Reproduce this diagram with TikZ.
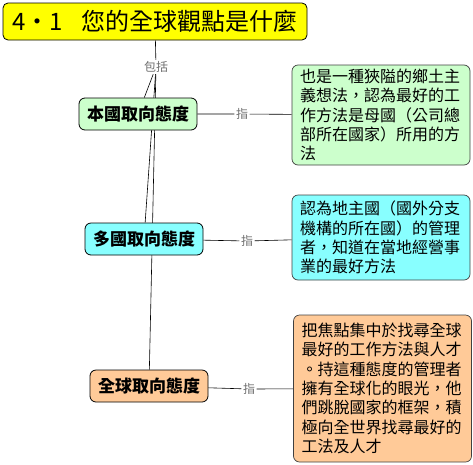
\documentclass[tikz,border=0pt]{standalone}
\usepackage{fontspec}
\setmainfont{Noto Sans CJK TC}
\usetikzlibrary{positioning,backgrounds}
\definecolor{titleyellow}{RGB}{255,255,0}
\definecolor{homegreen}{RGB}{204,255,204}
\definecolor{multicyan}{RGB}{136,255,255}
\definecolor{globalorange}{RGB}{255,202,152}
\definecolor{linkgray}{RGB}{110,110,110}

\begin{document}
\begin{tikzpicture}[x=1pt, y=-1pt,
    titlebox/.style={draw, rounded corners=5pt, fill=titleyellow, line width=0.8pt,
      minimum width=304pt, minimum height=37pt, inner sep=0pt, font=\fontsize{24}{26}\selectfont},
    kindbox/.style={draw, rounded corners=6pt, line width=0.8pt, minimum width=118pt,
      minimum height=32pt, inner sep=0pt, font=\bfseries\fontsize{17}{19}\selectfont},
    descbox/.style={draw=black!75, rounded corners=6pt, line width=0.7pt, text width=162pt,
      inner xsep=8pt, align=left, font=\fontsize{16}{19.3}\selectfont},
    linklabel/.style={text=linkgray, inner sep=1.5pt, font=\fontsize{12}{12}\selectfont},
    conn/.style={line width=0.6pt}]
  \useasboundingbox (0,0) rectangle (473,464);
  % titulo y etiqueta central
  \node[titlebox] (title) at (155,21.5) {4・1\hspace{0.8em}您的全球觀點是什麼};
  \node[linklabel] (incl) at (156,67) {包括};
  % tres enfoques (columna izquierda)
  \node[kindbox, fill=homegreen] (home) at (138,114) {本國取向態度};
  \node[kindbox, fill=multicyan] (multi) at (144,239) {多國取向態度};
  \node[kindbox, fill=globalorange] (global) at (149,386) {全球取向態度};
  % descripciones (columna derecha)
  \node[descbox, fill=homegreen, minimum height=100pt] (homedesc) at (381,115)
    {也是一種狹隘的鄉土主\\義想法，認為最好的工\\作方法是母國（公司總\\部所在國家）所用的方\\法};
  \node[descbox, fill=multicyan, minimum height=85pt] (multidesc) at (381,237.5)
    {認為地主國（國外分支\\機構的所在國）的管理\\者，知道在當地經營事\\業的最好方法};
  \node[descbox, fill=globalorange, minimum height=147pt] (globaldesc) at (382.5,388.5)
    {把焦點集中於找尋全球\\最好的工作方法與人才\\。持這種態度的管理者\\擁有全球化的眼光，他\\們跳脫國家的框架，積\\極向全世界找尋最好的\\工法及人才};
  % etiquetas "指"
  \foreach \k/\x/\y in {home/242/114, multi/247/241, global/249/389} {
    \node[linklabel] (\k zhi) at (\x,\y) {指};
  }
  % conectores detras de las cajas
  \begin{scope}[on background layer]
    \draw[conn] (title) -- (incl);
    \foreach \k in {home,multi,global} {
      \draw[conn] (incl) -- (\k);
      \draw[conn] (\k) -- (\k zhi) -- (\k desc);
    }
  \end{scope}
\end{tikzpicture}
\end{document}
